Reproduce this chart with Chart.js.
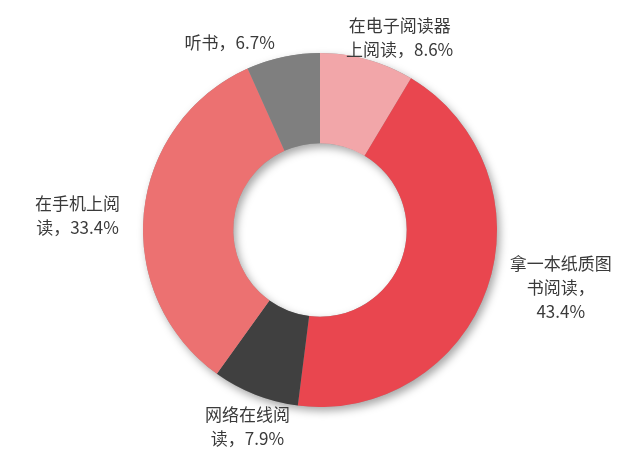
<!DOCTYPE html>
<html lang="zh">
<head>
    <meta charset="UTF-8" />
    <title>阅读方式</title>
    <style>
        body {
            margin: 0;
            background: #ffffff;
        }
        #chart {
            display: block;
        }
    </style>
</head>
<body>
<canvas id="chart" width="640" height="460"></canvas>

<script src="https://cdn.jsdelivr.net/npm/chart.js"></script>
<script>
    // data, clockwise from 12 o'clock
    const categories = ["在电子阅读器上阅读", "拿一本纸质图书阅读", "网络在线阅读", "在手机上阅读", "听书"];
    const shares = [8.6, 43.4, 7.9, 33.4, 6.7];
    // label text as wrapped in the picture
    const labelLines = [
        ["在电子阅读器", "上阅读，8.6%"],
        ["拿一本纸质图", "书阅读，", "43.4%"],
        ["网络在线阅", "读，7.9%"],
        ["在手机上阅", "读，33.4%"],
        ["听书，6.7%"]
    ];

    const colors = ["#f2a6a9", "#e9464f", "#404040", "#ec7171", "#7f7f7f"];
    // where each label block sits, relative to the centre, in outer radii
    const labelPos = [[0.45, -1.085], [1.36, 0.325], [-0.41, 1.11], [-1.37, -0.08], [-0.51, -1.06]];

    // soft drop shadow under the ring
    const ringShadow = {
        id: "ringShadow",
        beforeDatasetsDraw(chart) {
            const arc = chart.getDatasetMeta(0).data[0];
            const ctx = chart.ctx;
            ctx.save();
            ctx.shadowColor = "rgba(0,0,0,0.35)";
            ctx.shadowBlur = 9;
            ctx.shadowOffsetX = 3;
            ctx.shadowOffsetY = 4;
            ctx.beginPath();
            ctx.arc(arc.x, arc.y, arc.outerRadius, 0, Math.PI * 2);
            ctx.arc(arc.x, arc.y, arc.innerRadius, 0, Math.PI * 2, true);
            ctx.fillStyle = "#999999";
            ctx.fill("evenodd");
            ctx.restore();
        }
    };

    // outside labels, no leader lines
    const outsideLabels = {
        id: "outsideLabels",
        afterDatasetsDraw(chart) {
            const arc = chart.getDatasetMeta(0).data[0];
            const ctx = chart.ctx;
            const R = arc.outerRadius;
            const lineH = 24;
            ctx.save();
            ctx.font = "17px 'Noto Sans CJK SC'";
            ctx.fillStyle = "#3a3a3a";
            ctx.textAlign = "center";
            ctx.textBaseline = "middle";
            labelLines.forEach((lines, i) => {
                const cx = arc.x + labelPos[i][0] * R;
                const cy = arc.y + labelPos[i][1] * R;
                const top = cy - (lines.length - 1) * lineH / 2;
                lines.forEach((t, j) => ctx.fillText(t, cx, top + j * lineH));
            });
            ctx.restore();
        }
    };

    new Chart(document.getElementById("chart"), {
        type: "doughnut",
        data: {
            labels: categories,
            datasets: [{
                data: shares,
                backgroundColor: colors,
                borderWidth: 0
            }]
        },
        options: {
            responsive: false,
            animation: false,
            cutout: "49%",
            layout: { padding: { top: 53, bottom: 53 } },
            plugins: {
                legend: { display: false },
                tooltip: { enabled: false }
            }
        },
        plugins: [ringShadow, outsideLabels]
    });
</script>
</body>
</html>
